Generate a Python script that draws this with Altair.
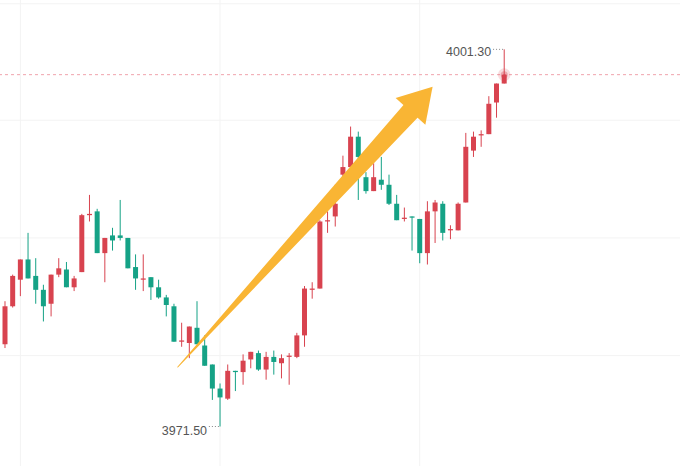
import altair as alt
import pandas as pd

# ---- candle data ----
opens = [3978.0, 3981.0, 3983.1, 3984.7, 3983.4, 3982.3, 3981.2, 3983.5, 3983.9, 3982.5,
         3983.7, 3988.2, 3988.5, 3985.2, 3986.6, 3986.6, 3986.4, 3984.1, 3983.1, 3983.3,
         3982.5, 3981.7, 3981.0, 3978.2, 3978.1, 3979.3, 3977.9, 3976.4, 3974.5, 3973.7,
         3975.9, 3975.8, 3976.8, 3977.3, 3976.0, 3977.0, 3976.5, 3977.0, 3977.0, 3978.7,
         3982.3, 3982.4, 3987.7, 3988.1, 3991.4, 3992.0, 3994.4, 3991.2, 3990.1, 3991.0,
         3990.6, 3989.1, 3987.9, 3988.1, 3987.9, 3985.2, 3988.5, 3989.1, 3987.0, 3987.0,
         3989.2, 3993.3, 3994.5, 3994.6, 3997.1, 3998.6]
highs = [3981.4, 3983.5, 3984.7, 3986.8, 3984.8, 3982.7, 3983.5, 3984.8, 3984.5, 3983.4,
         3988.3, 3989.8, 3988.7, 3986.4, 3987.2, 3989.4, 3986.4, 3985.1, 3985.1, 3983.3,
         3983.1, 3981.9, 3981.2, 3979.7, 3979.4, 3981.4, 3978.7, 3976.4, 3974.9, 3976.4,
         3975.9, 3977.2, 3977.4, 3977.5, 3977.4, 3977.5, 3977.2, 3977.3, 3978.9, 3982.6,
         3982.9, 3987.8, 3988.5, 3990.6, 3992.9, 3995.2, 3994.8, 3991.6, 3992.3, 3992.8,
         3991.4, 3989.8, 3988.8, 3988.1, 3987.9, 3989.3, 3989.4, 3989.3, 3987.4, 3989.2,
         3994.7, 3994.8, 3994.9, 3997.6, 3998.6, 4001.3]
lows = [3977.7, 3980.9, 3981.8, 3983.2, 3981.2, 3979.8, 3980.2, 3983.3, 3982.5, 3982.2,
        3983.7, 3987.7, 3985.2, 3982.9, 3985.4, 3986.2, 3984.0, 3982.3, 3982.2, 3981.5,
        3981.6, 3980.2, 3978.2, 3977.8, 3976.9, 3978.0, 3976.3, 3973.6, 3971.5, 3973.6,
        3974.3, 3974.8, 3976.1, 3975.9, 3975.2, 3975.6, 3975.3, 3974.8, 3976.9, 3977.8,
        3981.6, 3982.4, 3986.8, 3987.3, 3990.8, 3992.0, 3989.4, 3989.9, 3990.1, 3990.2,
        3989.0, 3987.8, 3987.7, 3985.4, 3984.4, 3984.3, 3986.0, 3986.2, 3986.3, 3987.0,
        3989.2, 3992.8, 3993.6, 3994.6, 3995.9, 3998.6]
closes = [3981.0, 3983.4, 3984.7, 3983.2, 3982.3, 3981.0, 3983.5, 3984.0, 3982.5, 3983.2,
          3988.2, 3988.3, 3985.2, 3986.4, 3986.2, 3986.4, 3984.0, 3983.2, 3983.2, 3982.5,
          3981.7, 3981.1, 3978.2, 3978.3, 3979.4, 3978.0, 3976.3, 3974.5, 3973.8, 3975.9,
          3975.8, 3976.7, 3977.4, 3976.0, 3977.0, 3976.6, 3976.9, 3977.1, 3978.7, 3982.4,
          3982.4, 3987.7, 3987.8, 3989.1, 3992.0, 3994.4, 3992.8, 3990.1, 3991.2, 3990.6,
          3989.1, 3987.8, 3988.0, 3988.0, 3985.2, 3988.5, 3989.2, 3986.8, 3987.1, 3989.1,
          3993.6, 3994.4, 3994.6, 3997.0, 3998.6, 3999.3]

grid_x = [2, 28, 54]
grid_y = [4004.9, 3995.7, 3986.4, 3977.1]
last_price = 3999.3

ann_idx = [65, 28]
ann_price = [4001.3, 3971.5]
ann_label = ["4001.30", "3971.50"]

arrow_idx = [22.5, 52.8]
arrow_price = [3976.2, 3996.4]
arrow_w = [1, 19]

RED = "#d8434f"
GREEN = "#15a286"
ARROW = "#f9b534"

df = pd.DataFrame({"idx": list(range(len(opens))), "open": opens, "high": highs,
                   "low": lows, "close": closes})
grid_x_df = pd.DataFrame({"gx": grid_x})
grid_y_df = pd.DataFrame({"gy": grid_y})
last_df = pd.DataFrame({"idx": [len(closes) - 1], "price": [last_price]})
ann_df = pd.DataFrame({"idx": ann_idx, "price": ann_price, "label": ann_label})
arrow_df = pd.DataFrame({"idx": arrow_idx, "price": arrow_price, "w": arrow_w, "o": [0, 1]})
head_df = pd.DataFrame({"idx": [arrow_idx[1]], "price": [arrow_price[1]]})

xs = alt.Scale(domain=[-0.651, 87.89], nice=False, zero=False, padding=0)
ys = alt.Scale(domain=[3968.38, 4005.2], nice=False, zero=False, padding=0)


def X(f):
    return alt.X(f, type="quantitative", scale=xs, axis=None)


def Y(f):
    return alt.Y(f, type="quantitative", scale=ys, axis=None)


color_cond = alt.condition("datum.close >= datum.open", alt.value(RED), alt.value(GREEN))

gx = alt.Chart(grid_x_df).mark_rule(color="#f3f3f3", strokeWidth=1).encode(x=X("gx"))
gy = alt.Chart(grid_y_df).mark_rule(color="#f3f3f3", strokeWidth=1).encode(y=Y("gy"))

last_line = alt.Chart(last_df).mark_rule(color="#f0a3ad", strokeDash=[3, 3], strokeWidth=1).encode(
    y=Y("price"))

wicks = alt.Chart(df).mark_rule(strokeWidth=1).encode(
    x=X("idx"), y=Y("low"), y2="high", color=color_cond)

bodies = alt.Chart(df).mark_bar(size=5).encode(
    x=X("idx"), y=Y("open"), y2="close", color=color_cond)

glow1 = alt.Chart(last_df).mark_circle(color=RED, opacity=0.18, size=160).encode(
    x=X("idx"), y=Y("price"))
glow2 = alt.Chart(last_df).mark_circle(color=RED, opacity=0.35, size=50).encode(
    x=X("idx"), y=Y("price"))

shaft = alt.Chart(arrow_df).mark_trail(color=ARROW).encode(
    x=X("idx"), y=Y("price"), size=alt.Size("w", type="quantitative", scale=None, legend=None),
    order="o:Q")
head = alt.Chart(head_df).mark_point(shape="M0,-1.65L1,0L-1,0Z", filled=True, size=1600,
                                     angle=42, color=ARROW, opacity=1, strokeOpacity=0).encode(
    x=X("idx"), y=Y("price"))

leader = alt.Chart(ann_df).transform_calculate(x0="datum.idx - 1.45").mark_rule(
    color="#888888", strokeDash=[1, 2], strokeWidth=1).encode(
    x=X("x0"), x2="idx", y=Y("price"))

labels_hi = alt.Chart(ann_df.iloc[[0]]).mark_text(
    align="right", baseline="middle", dx=-13, dy=3, fontSize=12.5,
    font="Liberation Sans", color="#555555").encode(x=X("idx"), y=Y("price"), text="label")
labels_lo = alt.Chart(ann_df.iloc[[1]]).mark_text(
    align="right", baseline="middle", dx=-13, dy=4, fontSize=12.5,
    font="Liberation Sans", color="#555555").encode(x=X("idx"), y=Y("price"), text="label")

chart = alt.layer(gx, gy, last_line, wicks, bodies, glow1, glow2, shaft, head, leader,
                  labels_hi, labels_lo).properties(
    width=680, height=466, padding=0, autosize=alt.AutoSizeParams(type="none"),
    background="white").configure_view(stroke=None)

chart.save("out.html", embed_options={"renderer": "svg", "actions": False})
